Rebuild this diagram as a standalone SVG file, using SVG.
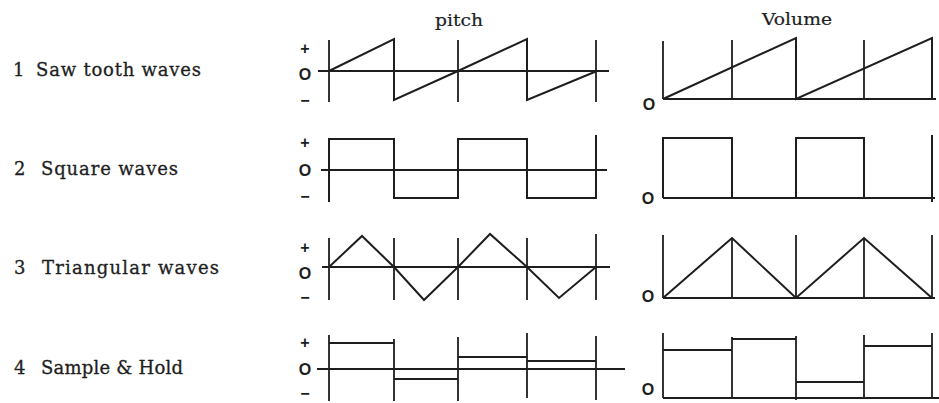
<svg xmlns="http://www.w3.org/2000/svg" width="939" height="403" viewBox="0 0 939 403">
<style>
.w{fill:none;stroke:#1e1e1e;stroke-width:2;stroke-linejoin:miter;stroke-linecap:butt}
.ax{fill:none;stroke:#1e1e1e;stroke-width:1.8}
.lbl{font-family:"DejaVu Serif","Liberation Serif",serif;font-size:18px;fill:#1e1e1e;stroke:#1e1e1e;stroke-width:0.3}
.hd{font-family:"DejaVu Serif","Liberation Serif",serif;font-size:17px;fill:#1e1e1e;stroke:#1e1e1e;stroke-width:0.2}
.s{font-family:"Liberation Sans",Arial,sans-serif;font-weight:bold;fill:#1e1e1e;text-anchor:middle}
.o{font-size:16px}
.p{font-size:16px}
.m{font-size:16px}
</style>
<rect width="939" height="403" fill="#ffffff"/>

<g id="header-pitch"><text class="hd" x="435" y="26" textLength="48" lengthAdjust="spacingAndGlyphs">pitch</text></g>
<g id="header-volume"><text class="hd" x="762" y="25" textLength="70" lengthAdjust="spacingAndGlyphs">Volume</text></g>

<g id="label-1"><text class="lbl" x="13" y="76">1</text><text class="lbl" x="36" y="76" textLength="165" lengthAdjust="spacing">Saw tooth waves</text></g>
<g id="label-2"><text class="lbl" x="14" y="175">2</text><text class="lbl" x="41" y="175" textLength="137" lengthAdjust="spacing">Square waves</text></g>
<g id="label-3"><text class="lbl" x="14" y="274">3</text><text class="lbl" x="42" y="274" textLength="177" lengthAdjust="spacing">Triangular waves</text></g>
<g id="label-4"><text class="lbl" x="14" y="374">4</text><text class="lbl" x="41" y="374" textLength="142" lengthAdjust="spacing">Sample &amp; Hold</text></g>

<!-- Row 1 pitch -->
<g id="pitch-1">
<text class="s p" x="305" y="54">+</text>
<text class="s o" x="305" y="80">O</text>
<text class="s m" x="305" y="106">−</text>
<path class="ax" d="M318 71H609M329 40V102M458 40V102M596 40V102"/>
<path class="w" d="M329 71L394 39V100L458 71L527 39V100L597 71"/>
</g>
<!-- Row 1 volume -->
<g id="volume-1">
<text class="s o" x="649" y="109.5">O</text>
<path class="ax" d="M663 99H936M663 41V99M732 40V99M864 40V99"/>
<path class="w" d="M663 99L796 38V99L932 38V99"/>
</g>

<!-- Row 2 pitch -->
<g id="pitch-2">
<text class="s p" x="305" y="147.5">+</text>
<text class="s o" x="305" y="176">O</text>
<text class="s m" x="305" y="202">−</text>
<path class="ax" d="M321 170H607"/>
<path class="w" d="M329 202V139H394V198H458V139H527V198H596V135"/>
</g>
<!-- Row 2 volume -->
<g id="volume-2">
<text class="s o" x="648" y="204">O</text>
<path class="ax" d="M663 198H935"/>
<path class="w" d="M663 198V138H732V198M796 198V138H864V198M932 202V135"/>
</g>

<!-- Row 3 pitch -->
<g id="pitch-3">
<text class="s p" x="305" y="252.5">+</text>
<text class="s o" x="305" y="279">O</text>
<text class="s m" x="305" y="303">−</text>
<path class="ax" d="M322 267H610M329 238V300M394 238V300M458 238V300M527 238V300M596 234V300"/>
<path class="w" d="M329 267L362 236L394 267L424 300L458 267L490 234L527 267L559 298L596 267"/>
</g>
<!-- Row 3 volume -->
<g id="volume-3">
<text class="s o" x="648" y="302">O</text>
<path class="ax" d="M663 298H935M663 235V298M732 238V298M796 235V298M864 238V298M932 235V298"/>
<path class="w" d="M663 298L732 238L796 298L864 238L932 298"/>
</g>

<!-- Row 4 pitch -->
<g id="pitch-4">
<text class="s p" x="305" y="347.5">+</text>
<text class="s o" x="305" y="375">O</text>
<text class="s m" x="305" y="398.5">−</text>
<path class="ax" d="M317 369H625M329 335V401M394 339V401M458 337V401M527 333V398M596 336V400"/>
<path class="w" d="M329 343H394M394 379H458M458 357H527M527 361H596"/>
</g>
<!-- Row 4 volume -->
<g id="volume-4">
<text class="s o" x="648" y="394.5">O</text>
<path class="ax" d="M663 398H939M663 333V398M732 337V398M796 336V400M864 335V398M932 333V398"/>
<path class="w" d="M663 350H732M732 339H796M796 382H864M864 346H932"/>
</g>

<g id="connectors"></g>
</svg>
